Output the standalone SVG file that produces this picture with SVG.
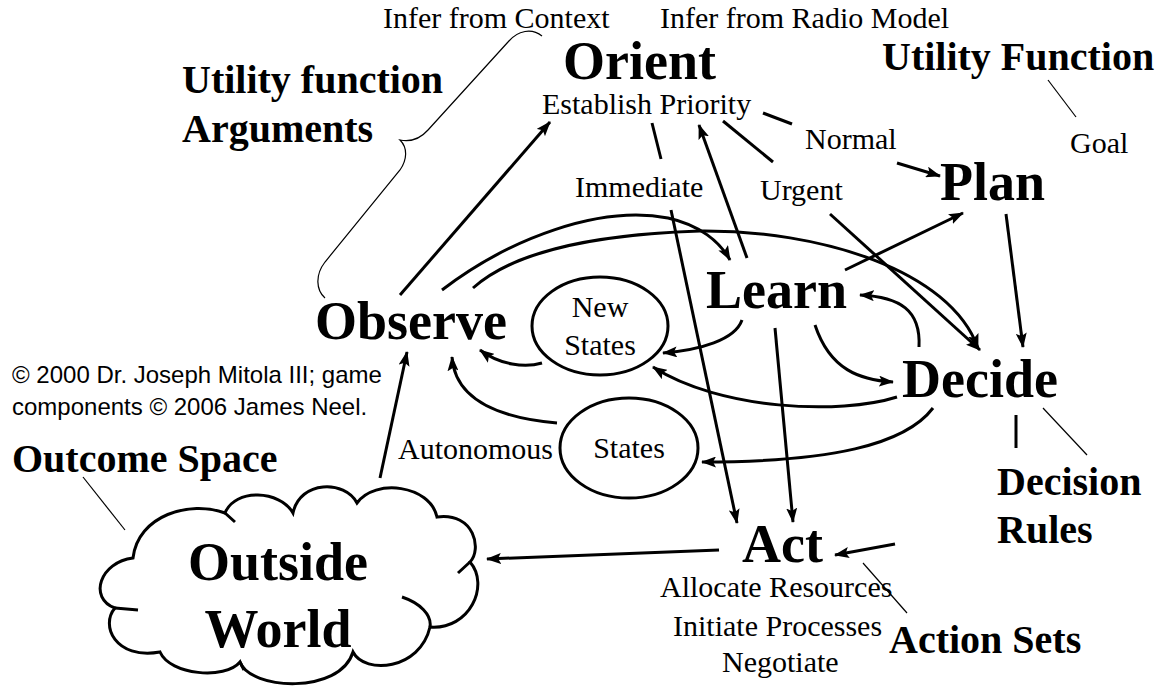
<svg xmlns="http://www.w3.org/2000/svg" width="1160" height="691" viewBox="0 0 1160 691">
<style>
.big{font-family:"Liberation Serif",serif;font-weight:bold;font-size:54px;fill:#000}
.hdr{font-family:"Liberation Serif",serif;font-weight:bold;font-size:40px;fill:#000}
.lbl{font-family:"Liberation Serif",serif;font-size:30px;fill:#000}
.copy{font-family:"Liberation Sans",sans-serif;font-size:24px;fill:#000}
.conn{stroke:#000;stroke-width:3;fill:none}
.arr{marker-end:url(#ah)}
.thin{stroke:#000;stroke-width:1.2;fill:none}
</style>
<defs>
<marker id="ah" viewBox="0 0 15 11" refX="14" refY="5.5" markerWidth="15" markerHeight="11" markerUnits="userSpaceOnUse" orient="auto">
<path d="M0,0 L15,5.5 L0,11 L3,5.5 z" fill="#000"/>
</marker>
</defs>
<rect width="1160" height="691" fill="#fff"/>

<g id="connectors">
<path class="conn arr" d="M400,295 L550,122"/>
<path class="conn arr" d="M380,478 L407,352"/>
<path class="conn arr" d="M442,290 C510,238 600,205 668,218 C700,225 720,242 730,260"/>
<path class="conn arr" d="M473,288 C510,255 580,235 700,231 C820,230 950,270 978,348"/>
<path class="conn" d="M652,123 L661,159"/>
<path class="conn" d="M723,121 L773,162"/>
<path class="conn" d="M763,113 L792,124"/>
<path class="conn arr" d="M897,163 L940,176"/>
<path class="conn arr" d="M747,258 L699,125"/>
<path class="conn arr" d="M671,210 L737,523"/>
<path class="conn arr" d="M830,214 L980,350"/>
<path class="conn arr" d="M845,270 L963,213"/>
<path class="conn arr" d="M1006,214 L1023,347"/>
<path class="conn arr" d="M775,328 L793,522"/>
<path class="conn arr" d="M919,347 C921,310 900,297 860,295"/>
<path class="conn arr" d="M815,325 C830,370 860,380 893,382"/>
<path class="conn arr" d="M742,320 C735,340 700,350 663,353"/>
<path class="conn arr" d="M897,397 C840,415 720,410 653,367"/>
<path class="conn arr" d="M933,408 C905,445 830,462 702,462"/>
<path class="conn arr" d="M895,544 L835,555"/>
<path class="conn arr" d="M719,550 L487,559"/>
<path class="conn arr" d="M542,363 C525,368 500,365 480,350"/>
<path class="conn arr" d="M557,423 C500,418 455,400 452,357"/>
<path class="conn" d="M1016,415 L1016,448"/>
<path class="thin" d="M1043,408 L1087,455"/>
<path class="thin" d="M1048,80 L1076,117"/>
<path class="thin" d="M83,477 L125,530"/>
<path class="thin" d="M863,563 L907,613"/>
<path class="thin" d="M542,36 C532,28 518,30 508,42 L428,130 C420,139 410,142 400,140 C408,148 407,160 400,170 L325,262 C315,275 316,290 325,298"/>
</g>

<g id="infer-context"><text class="lbl" x="383" y="28">Infer from Context</text></g>
<g id="infer-radio"><text class="lbl" x="660" y="28">Infer from Radio Model</text></g>
<g id="utility-args"><text class="hdr" x="182" y="93">Utility function</text><text class="hdr" x="182" y="142">Arguments</text></g>
<g id="orient"><text class="big" x="563" y="79">Orient</text><text class="lbl" x="542" y="114">Establish Priority</text></g>
<g id="utility-function"><text class="hdr" x="882" y="70">Utility Function</text></g>
<g id="goal"><text class="lbl" x="1070" y="153">Goal</text></g>
<g id="normal"><text class="lbl" x="805" y="149">Normal</text></g>
<g id="immediate"><text class="lbl" x="575" y="197">Immediate</text></g>
<g id="urgent"><text class="lbl" x="760" y="200">Urgent</text></g>
<g id="plan"><text class="big" x="940" y="200">Plan</text></g>
<g id="learn"><text class="big" x="706" y="308">Learn</text></g>
<g id="observe"><text class="big" x="315" y="339">Observe</text></g>
<g id="new-states"><ellipse class="conn" cx="600" cy="326" rx="68" ry="49"/><text class="lbl" x="600" y="317" text-anchor="middle">New</text><text class="lbl" x="600" y="355" text-anchor="middle">States</text></g>
<g id="states"><ellipse class="conn" cx="629" cy="448" rx="69" ry="50"/><text class="lbl" x="629" y="458" text-anchor="middle">States</text></g>
<g id="autonomous"><text class="lbl" x="398" y="459">Autonomous</text></g>
<g id="decide"><text class="big" x="902" y="397">Decide</text></g>
<g id="decision-rules"><text class="hdr" x="997" y="495">Decision</text><text class="hdr" x="997" y="543">Rules</text></g>
<g id="copyright"><text class="copy" x="12" y="383">© 2000 Dr. Joseph Mitola III; game</text><text class="copy" x="12" y="415">components © 2006 James Neel.</text></g>
<g id="outcome-space"><text class="hdr" x="12" y="472">Outcome Space</text></g>
<g id="outside-world">
<path class="conn" d="M133,558 C100,562 88,598 115,608 C100,625 115,660 160,652 C170,675 225,680 240,662 C250,690 340,695 353,652 C365,675 420,670 430,627 C470,630 490,585 470,562 C482,550 475,512 437,517 C430,485 375,478 357,503 C345,480 300,480 293,513 C280,490 235,488 225,513 C190,500 138,515 133,558 Z"/>
<path class="conn" d="M225,513 L235,522 M115,608 L138,610 M240,662 L244,670 M402,597 C420,603 432,615 430,627 M470,562 L458,573"/>
<text class="big" x="278" y="580" text-anchor="middle">Outside</text>
<text class="big" x="278" y="647" text-anchor="middle">World</text>
</g>
<g id="act"><text class="big" x="742" y="562">Act</text><text class="lbl" x="660" y="597">Allocate Resources</text><text class="lbl" x="673" y="636">Initiate Processes</text><text class="lbl" x="722" y="672">Negotiate</text></g>
<g id="action-sets"><text class="hdr" x="889" y="653">Action Sets</text></g>
</svg>
